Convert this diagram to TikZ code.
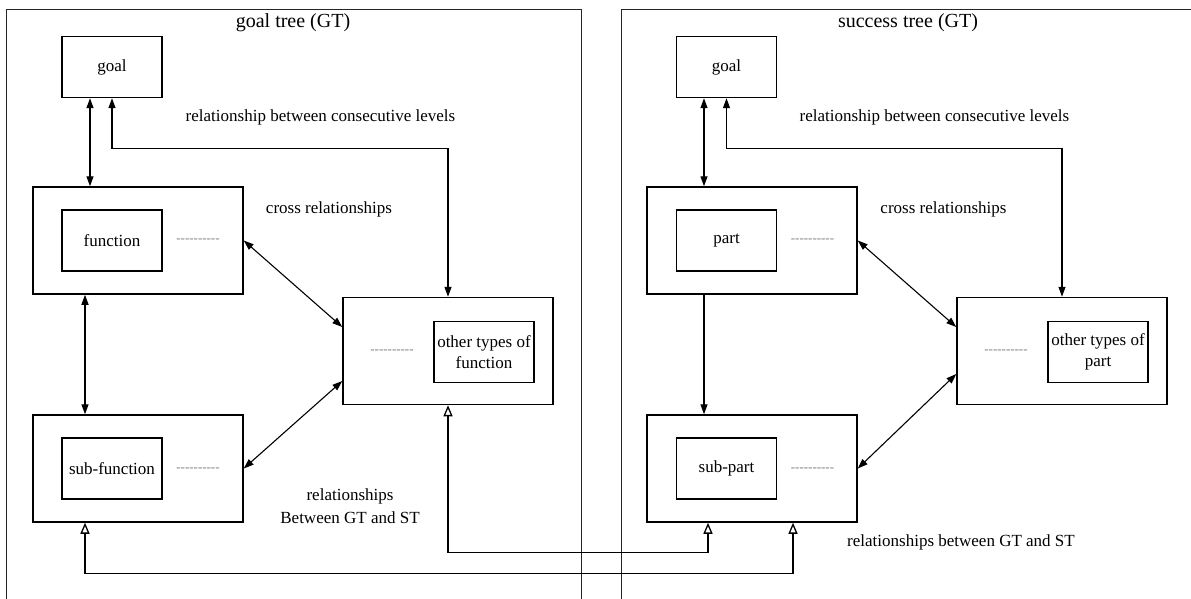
\documentclass[tikz,border=0pt]{standalone}
\usepackage{fontspec}
\setmainfont{Liberation Serif}
\usetikzlibrary{arrows.meta,calc}
\newcommand{\fsA}{\fontsize{17}{21}\selectfont}
\newcommand{\fsT}{\fontsize{20}{24}\selectfont}
\newcommand{\fsD}{\fontsize{13}{15}\selectfont}
\tikzset{
  outerbox/.style={draw, line width=1.5pt, minimum width=210pt, minimum height=107pt, inner sep=0pt},
  innerbox/.style={draw, line width=1.5pt, minimum width=100pt, minimum height=61pt, inner sep=0pt, align=center, font=\fsA},
  dots/.style={text=gray, font=\fsD, inner sep=0pt},
  lbl/.style={font=\fsA, inner sep=0pt, align=center},
  frame/.style={line width=0.9pt, draw=black!85},
  conn/.style={line width=1.3pt, {Triangle[length=10pt,width=7pt]}-{Triangle[length=10pt,width=7pt]}},
  conn1/.style={line width=1.3pt, -{Triangle[length=10pt,width=7pt]}},
  diag/.style={line width=1.1pt, {Triangle[length=10pt,width=7pt]}-{Triangle[length=10pt,width=7pt]}},
  tri/.style={line width=1.3pt, {Triangle[open,length=11pt,width=9pt]}-{Triangle[open,length=11pt,width=9pt]}}
}
\begin{document}
\begin{tikzpicture}[x=1pt,y=-1pt]
\useasboundingbox (0,0) rectangle (1191,599);
% frames
\draw[frame] (6,599) -- (6,9) -- (581,9) -- (581,599);
\draw[frame] (621,599) -- (621,9) -- (1191,9);
\node[font=\fsT, inner sep=0pt] (titL) at (293,23) {goal tree (GT)};
\node[font=\fsT, inner sep=0pt] (titR) at (908,23) {success tree (GT)};

% ---------- left tree ----------
\node[innerbox] (goalL) at (112,67) {goal};
\node[outerbox] (funcL) at (138,240.5) {};
\node[innerbox] (funcIL) at (112,240.5) {function};
\node[dots] (dfL) at (198,241) {-{}-{}-{}-{}-{}-{}-{}-{}-{}-};
\node[outerbox] (othL) at (448,351) {};
\node[innerbox] (othIL) at (484,352) {other types of\\function};
\node[dots] (doL) at (392,352) {-{}-{}-{}-{}-{}-{}-{}-{}-{}-};
\node[outerbox] (subL) at (138,468.5) {};
\node[innerbox] (subIL) at (112,468.5) {sub-function};
\node[dots] (dsL) at (198,470) {-{}-{}-{}-{}-{}-{}-{}-{}-{}-};

\node[lbl] (relL) at (320.5,117) {relationship between consecutive levels};
\node[lbl] (crossL) at (329,209) {cross relationships};
\node[lbl, font=\fontsize{17}{23}\selectfont] (gtstL) at (350,506) {relationships\\Between GT and ST};

\draw[conn] ([xshift=-22pt]goalL.south) -- ([xshift=-22pt]goalL.south |- funcL.north);
\draw[conn] (goalL.south) -- ++(0,50) -| (othL.north);
\draw[conn] ([xshift=-53pt]funcL.south) -- ([xshift=-53pt]subL.north);
\draw[diag] (funcL.east) -- ([yshift=24pt]othL.west);
\draw[diag] (subL.east) -- ([yshift=-30pt]othL.west);

% ---------- right tree ----------
\node[innerbox] (goalR) at (726.5,67) {goal};
\node[outerbox] (funcR) at (752,240.5) {};
\node[innerbox] (funcIR) at (726.5,240.5) {part};
\node[dots] (dfR) at (812.5,241) {-{}-{}-{}-{}-{}-{}-{}-{}-{}-};
\node[outerbox] (othR) at (1062,351) {};
\node[innerbox] (othIR) at (1098,352) {other types of\\part};
\node[dots] (doR) at (1006,352) {-{}-{}-{}-{}-{}-{}-{}-{}-{}-};
\node[outerbox] (subR) at (752,468.5) {};
\node[innerbox] (subIR) at (726.5,468.5) {sub-part};
\node[dots] (dsR) at (812.5,470) {-{}-{}-{}-{}-{}-{}-{}-{}-{}-};

\node[lbl] (relR) at (934.5,117) {relationship between consecutive levels};
\node[lbl] (crossR) at (943.5,209) {cross relationships};
\node[lbl] (gtstR) at (961,542) {relationships between GT and ST};

\draw[conn] ([xshift=-22.5pt]goalR.south) -- ([xshift=-22.5pt]goalR.south |- funcR.north);
\draw[conn] (goalR.south) -- ++(0,50) -| (othR.north);
\draw[conn1] ([xshift=-48pt]funcR.south) -- ([xshift=-48pt]subR.north);
\draw[diag] (funcR.east) -- ([yshift=24pt]othR.west);
\draw[diag] (subR.east) -- ([yshift=-23pt]othR.west);

% ---------- between trees ----------
\draw[tri] (othL.south) -- ++(0,147) -| ([xshift=-44pt]subR.south);
\draw[tri] ([xshift=-53pt]subL.south) -- ++(0,51) -| ([xshift=41pt]subR.south);
\end{tikzpicture}
\end{document}
